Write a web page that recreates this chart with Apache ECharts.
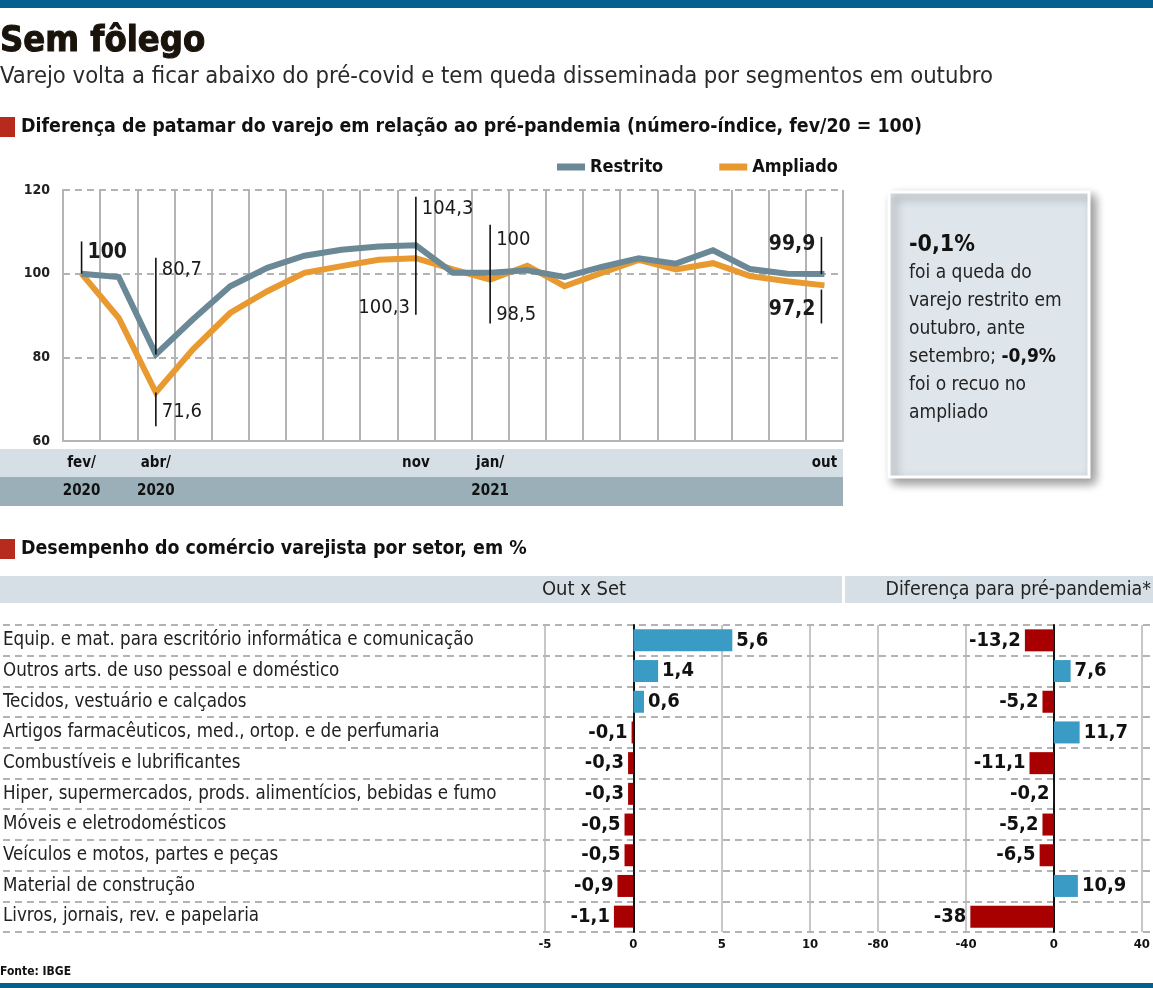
<!DOCTYPE html>
<html>
<head>
<meta charset="utf-8">
<script src="https://cdn.jsdelivr.net/npm/echarts@6/dist/echarts.min.js"></script>
<style>
html, body { margin: 0; padding: 0; background: #fff; }
#main { width: 1153px; height: 988px; }
</style>
</head>
<body>
<div id="main"></div>
<script>
// ---- data ----
var months = ['fev/20', 'mar/20', 'abr/20', 'mai/20', 'jun/20', 'jul/20', 'ago/20', 'set/20', 'out/20', 'nov/20', 'dez/20',
    'jan/21', 'fev/21', 'mar/21', 'abr/21', 'mai/21', 'jun/21', 'jul/21', 'ago/21', 'set/21', 'out/21'];
var monthTicks = ['fev/', '', 'abr/', '', '', '', '', '', '', 'nov', '', 'jan/', '', '', '', '', '', '', '', '', 'out'];
var yearTicks = ['2020', '', '2020', '', '', '', '', '', '', '', '', '2021', '', '', '', '', '', '', '', '', ''];
var restrito = [100, 99.2, 80.7, 89.1, 97.0, 101.4, 104.3, 105.7, 106.5, 106.8, 100.2,
    100.2, 100.8, 99.2, 101.6, 103.7, 102.4, 105.6, 101.1, 100.0, 99.9];
var ampliado = [100, 89.4, 71.6, 81.9, 90.6, 95.8, 100.2, 101.8, 103.3, 103.7, 101.0,
    98.6, 101.9, 97.0, 100.2, 103.3, 101.0, 102.5, 99.4, 98.2, 97.2];

var sectors = [
    'Equip. e mat. para escritório informática e comunicação',
    'Outros arts. de uso pessoal e doméstico',
    'Tecidos, vestuário e calçados',
    'Artigos farmacêuticos, med., ortop. e de perfumaria',
    'Combustíveis e lubrificantes',
    'Hiper, supermercados, prods. alimentícios, bebidas e fumo',
    'Móveis e eletrodomésticos',
    'Veículos e motos, partes e peças',
    'Material de construção',
    'Livros, jornais, rev. e papelaria'
];
var outSet = [5.6, 1.4, 0.6, -0.1, -0.3, -0.3, -0.5, -0.5, -0.9, -1.1];
var prePandemia = [-13.2, 7.6, -5.2, 11.7, -11.1, -0.2, -5.2, -6.5, 10.9, -38];

// annotation marks on the line chart: [month index, value from, value to]
var noteLines = [[0, 100, 107.7], [2, 80.7, 103.8], [2, 71.6, 63.5], [9, 90.2, 118.4],
    [11, 88.1, 111.7], [20, 99.9, 108.8], [20, 96.2, 88.1]];
// [month index, value, text, side, bold]
var noteLabels = [[0, 105, '100', 'right', true], [2, 101, '80,7', 'right', false], [2, 67.1, '71,6', 'right', false],
    [9, 115.5, '104,3', 'right', false], [9, 91.9, '100,3', 'left', false],
    [11, 108.1, '100', 'right', false], [11, 90.2, '98,5', 'right', false],
    [20, 106.9, '99,9', 'left', true], [20, 91.4, '97,2', 'left', true]];

// ---- style ----
var F = "'Liberation Sans Narrow', 'DejaVu Sans Condensed', 'Roboto Condensed', sans-serif";
var BLUE_TOP = '#05608f';
var C_RESTRITO = '#6a8896';
var C_AMPLIADO = '#e8992f';
var C_POS = '#3a9cc4';
var C_NEG = '#a80000';
var GRID_GREY = '#b4b4b4';
var DASH = '#9a9a9a';

function fmt(v) { return String(v).replace('.', ','); }

var chart = echarts.init(document.getElementById('main'));

var barLabel = {
    show: true,
    fontFamily: F,
    fontWeight: 'bold',
    fontSize: 20,
    color: '#111',
    distance: 4,
    formatter: function (p) { return fmt(p.value); }
};

function barData(arr) {
    return arr.map(function (v) {
        return {
            value: v,
            itemStyle: { color: v >= 0 ? C_POS : C_NEG },
            label: { position: v >= 0 ? 'right' : 'left' }
        };
    });
}

var option = {
    animation: false,
    legend: {
        data: ['Restrito', 'Ampliado'],
        left: 552,
        top: 153,
        icon: 'rect',
        itemWidth: 28,
        itemHeight: 7,
        itemGap: 56,
        textStyle: { fontFamily: F, fontWeight: 'bold', fontSize: 18, color: '#111' }
    },
    grid: [
        { left: 63, top: 190, width: 780, height: 251 },
        { left: 0, top: 625, width: 1153, height: 307 },
        { left: 545, top: 625, width: 296, height: 307 },
        { left: 878, top: 625, width: 267, height: 307 }
    ],
    xAxis: [
        {
            gridIndex: 0, type: 'category', data: months, boundaryGap: true,
            axisLine: { lineStyle: { color: GRID_GREY, width: 2 } },
            axisTick: { show: false },
            splitLine: { show: true, interval: 0, lineStyle: { color: GRID_GREY, width: 2 } },
            axisLabel: {
                interval: 0, margin: 8, lineHeight: 28,
                fontFamily: F, fontWeight: 'bold', fontSize: 15, color: '#111',
                formatter: function (v, i) { return monthTicks[i] + '\n' + yearTicks[i]; }
            }
        },
        { gridIndex: 1, type: 'value', min: 0, max: 1, show: false },
        {
            gridIndex: 2, type: 'value', min: -5, max: 11.75, interval: 5,
            axisLine: { show: false }, axisTick: { show: false },
            splitLine: { show: true, showMaxLine: false, lineStyle: { color: GRID_GREY, width: 1.5 } },
            axisLabel: { showMaxLabel: false, margin: 6, fontFamily: F, fontWeight: 'bold', fontSize: 13, color: '#111' }
        },
        {
            gridIndex: 3, type: 'value', min: -80, max: 40, interval: 40,
            axisLine: { show: false }, axisTick: { show: false },
            splitLine: { show: true, lineStyle: { color: GRID_GREY, width: 1.5 } },
            axisLabel: { margin: 6, fontFamily: F, fontWeight: 'bold', fontSize: 13, color: '#111' }
        }
    ],
    yAxis: [
        {
            gridIndex: 0, type: 'value', min: 60, max: 120, interval: 20,
            axisLine: { show: true, lineStyle: { color: GRID_GREY, width: 2 } },
            axisTick: { show: false },
            splitLine: { lineStyle: { color: DASH, width: 1.5, type: [7, 5] } },
            axisLabel: { margin: 13, fontFamily: F, fontWeight: 'bold', fontSize: 14, color: '#222' }
        },
        {
            gridIndex: 1, type: 'category', data: sectors, inverse: true,
            axisLine: { show: false }, axisTick: { show: false },
            splitLine: { show: true, interval: 0, lineStyle: { color: DASH, width: 1.5, type: [7, 5] } },
            axisLabel: { inside: true, margin: 0, interval: 0, fontFamily: F, fontSize: 18.6, color: '#222' }
        },
        {
            gridIndex: 2, type: 'category', data: sectors, inverse: true,
            axisLine: { onZero: true, lineStyle: { color: '#111', width: 2 } },
            axisTick: { show: false }, axisLabel: { show: false }, splitLine: { show: false }
        },
        {
            gridIndex: 3, type: 'category', data: sectors, inverse: true,
            axisLine: { onZero: true, lineStyle: { color: '#111', width: 2 } },
            axisTick: { show: false }, axisLabel: { show: false }, splitLine: { show: false }
        }
    ],
    series: [
        {
            name: 'Restrito', type: 'line', xAxisIndex: 0, yAxisIndex: 0, data: restrito,
            symbol: 'none', color: C_RESTRITO, lineStyle: { width: 6, join: 'miter' }, z: 3
        },
        {
            name: 'Ampliado', type: 'line', xAxisIndex: 0, yAxisIndex: 0, data: ampliado,
            symbol: 'none', color: C_AMPLIADO, lineStyle: { width: 6, join: 'miter' }, z: 2
        },
        {
            name: 'Out x Set', type: 'bar', xAxisIndex: 2, yAxisIndex: 2, data: barData(outSet),
            barWidth: 22, label: barLabel
        },
        {
            name: 'Diferença para pré-pandemia', type: 'bar', xAxisIndex: 3, yAxisIndex: 3, data: barData(prePandemia),
            barWidth: 22, label: barLabel
        }
    ]
};
chart.setOption(option);

// ---- static page furniture + annotations ----
var g = [
    { type: 'rect', shape: { x: 0, y: 0, width: 1153, height: 8 }, style: { fill: BLUE_TOP } },
    { type: 'rect', shape: { x: 0, y: 983, width: 1153, height: 5 }, style: { fill: BLUE_TOP } },
    { type: 'text', style: { text: 'Sem fôlego', x: 0, y: 42, verticalAlign: 'middle', fontFamily: "'DejaVu Sans Condensed', sans-serif", fontWeight: 900, fontSize: 36, fill: '#1a130b', stroke: '#1a130b', lineWidth: 1 } },
    { type: 'text', style: { text: 'Varejo volta a ficar abaixo do pré-covid e tem queda disseminada por segmentos em outubro', x: 0, y: 77, verticalAlign: 'middle', fontFamily: F, fontSize: 23.6, fill: '#2a2a2a' } },
    { type: 'rect', shape: { x: 0, y: 117, width: 15, height: 20 }, style: { fill: '#b72a1e' } },
    { type: 'text', style: { text: 'Diferença de patamar do varejo em relação ao pré-pandemia (número-índice, fev/20 = 100)', x: 21, y: 127, verticalAlign: 'middle', fontFamily: F, fontWeight: 'bold', fontSize: 19.4, fill: '#111' } },
    { type: 'rect', z: -10, shape: { x: 0, y: 449, width: 843, height: 28 }, style: { fill: '#d6dfe5' } },
    { type: 'rect', z: -10, shape: { x: 0, y: 477, width: 843, height: 29 }, style: { fill: '#9aafb8' } },
    { type: 'rect', shape: { x: 889, y: 192, width: 200, height: 285 }, style: { fill: '#dfe6eb', stroke: '#fff', lineWidth: 3, shadowBlur: 10, shadowOffsetX: 5, shadowOffsetY: 5, shadowColor: 'rgba(0,0,0,0.4)' } },
    {
        type: 'text', style: {
            x: 909, y: 231, fontFamily: F, fontSize: 19, fill: '#222', lineHeight: 28,
            text: '{b|-0,1%}\nfoi a queda do\nvarejo restrito em\noutubro, ante\nsetembro; {s|-0,9%}\nfoi o recuo no\nampliado',
            rich: {
                b: { fontFamily: F, fontWeight: 'bold', fontSize: 23, fill: '#111', lineHeight: 28 },
                s: { fontFamily: F, fontWeight: 'bold', fontSize: 19, fill: '#111', lineHeight: 28 }
            }
        }
    },
    { type: 'rect', shape: { x: 0, y: 539, width: 15, height: 20 }, style: { fill: '#b72a1e' } },
    { type: 'text', style: { text: 'Desempenho do comércio varejista por setor, em %', x: 21, y: 549, verticalAlign: 'middle', fontFamily: F, fontWeight: 'bold', fontSize: 19.4, fill: '#111' } },
    { type: 'rect', z: -10, shape: { x: 0, y: 576, width: 842, height: 27 }, style: { fill: '#d6dfe5' } },
    { type: 'rect', z: -10, shape: { x: 845, y: 576, width: 308, height: 27 }, style: { fill: '#d6dfe5' } },
    { type: 'text', style: { text: 'Out x Set', x: 584, y: 590, align: 'center', verticalAlign: 'middle', fontFamily: F, fontSize: 20, fill: '#222' } },
    { type: 'text', style: { text: 'Diferença para pré-pandemia*', x: 1151, y: 590, align: 'right', verticalAlign: 'middle', fontFamily: F, fontSize: 19.4, fill: '#222' } },
    { type: 'text', style: { text: 'Fonte: IBGE', x: 0, y: 972, verticalAlign: 'middle', fontFamily: F, fontWeight: 'bold', fontSize: 12, fill: '#111' } }
];

noteLines.forEach(function (n) {
    var p1 = chart.convertToPixel({ gridIndex: 0 }, [n[0], n[1]]);
    var p2 = chart.convertToPixel({ gridIndex: 0 }, [n[0], n[2]]);
    var x = n[0] === months.length - 1 ? p1[0] - 3 : p1[0];
    g.push({ type: 'line', z: 10, shape: { x1: x, y1: p1[1], x2: x, y2: p2[1] }, style: { stroke: '#111', lineWidth: 1.6 } });
});
noteLabels.forEach(function (n) {
    var p = chart.convertToPixel({ gridIndex: 0 }, [n[0], n[1]]);
    var right = n[3] === 'right';
    if (n[0] === months.length - 1) p[0] -= 3;
    g.push({
        type: 'text', z: 10,
        style: {
            text: n[2], x: p[0] + (right ? 6 : -6), y: p[1],
            align: right ? 'left' : 'right', verticalAlign: 'middle',
            fontFamily: F, fontWeight: n[4] ? 'bold' : 'normal', fontSize: n[4] ? 21 : 20, fill: '#1a1a1a'
        }
    });
});

chart.setOption({ graphic: g });
window.onresize = chart.resize;
</script>
</body>
</html>
